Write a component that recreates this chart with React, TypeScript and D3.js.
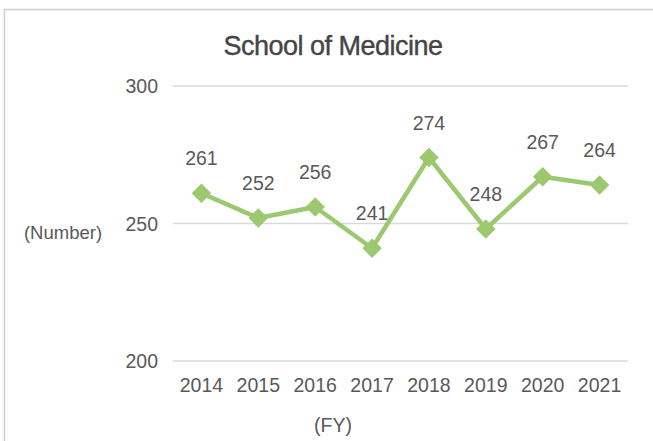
import * as d3 from "d3";
import React from "react";

const years = ["2014", "2015", "2016", "2017", "2018", "2019", "2020", "2021"];
const counts = [261, 252, 256, 241, 274, 248, 267, 264];
const yTicks = [200, 250, 300];

const width = 653;
const height = 441;
const plotLeft = 173;
const plotRight = 628;
const plotTop = 86;
const plotBottom = 361;

const green = "#9cc96f";
const textColor = "#595959";
const font = "Liberation Sans, Arial, sans-serif";

export default function App() {
  const x = d3.scaleBand().domain(years).range([plotLeft, plotRight]);
  const y = d3.scaleLinear().domain([200, 300]).range([plotBottom, plotTop]);

  const points: [number, number][] = years.map((yr, i) => [
    (x(yr) as number) + x.bandwidth() / 2,
    y(counts[i]),
  ]);
  const line = d3.line();
  const diamond = d3.symbol().type(d3.symbolSquare).size(190);

  return (
    <div style={{ position: "absolute", left: 0, top: 0 }}>
      <svg width={width} height={height} style={{ display: "block", fontFamily: font }}>
        <rect x={0} y={0} width={width} height={height} fill="#fff" />
        {/* chart border, right/bottom edges fall outside the picture */}
        <rect x={4.5} y={9.5} width={width + 10} height={height + 10} fill="none" stroke="#cfcfcf" strokeWidth={1.5} />

        <text
          x={333}
          y={55}
          textAnchor="middle"
          fontSize={27}
          fill="#454545"
          stroke="#454545"
          strokeWidth={0.4}
          letterSpacing={-0.5}
        >
          School of Medicine
        </text>

        {yTicks.map((t) => (
          <g key={t}>
            <line x1={plotLeft} x2={plotRight} y1={y(t)} y2={y(t)} stroke="#d9d9d9" strokeWidth={1.5} />
            <text x={158} y={y(t)} dy="0.36em" textAnchor="end" fontSize={19.5} fill={textColor}>
              {t}
            </text>
          </g>
        ))}

        {years.map((yr) => (
          <text
            key={yr}
            x={(x(yr) as number) + x.bandwidth() / 2}
            y={392}
            textAnchor="middle"
            fontSize={19.5}
            fill={textColor}
          >
            {yr}
          </text>
        ))}

        <text x={63} y={232} dy="0.36em" textAnchor="middle" fontSize={18.5} fill={textColor}>
          (Number)
        </text>
        <text x={333} y={432} textAnchor="middle" fontSize={19.5} fill={textColor}>
          (FY)
        </text>

        <path d={line(points) || ""} fill="none" stroke={green} strokeWidth={4.5} strokeLinejoin="round" />
        {points.map(([px, py], i) => (
          <g key={years[i]}>
            <path d={diamond() || ""} transform={`translate(${px},${py}) rotate(45)`} fill={green} />
            <text x={px} y={py - 28} textAnchor="middle" fontSize={19.5} fill={textColor}>
              {counts[i]}
            </text>
          </g>
        ))}
      </svg>
    </div>
  );
}
